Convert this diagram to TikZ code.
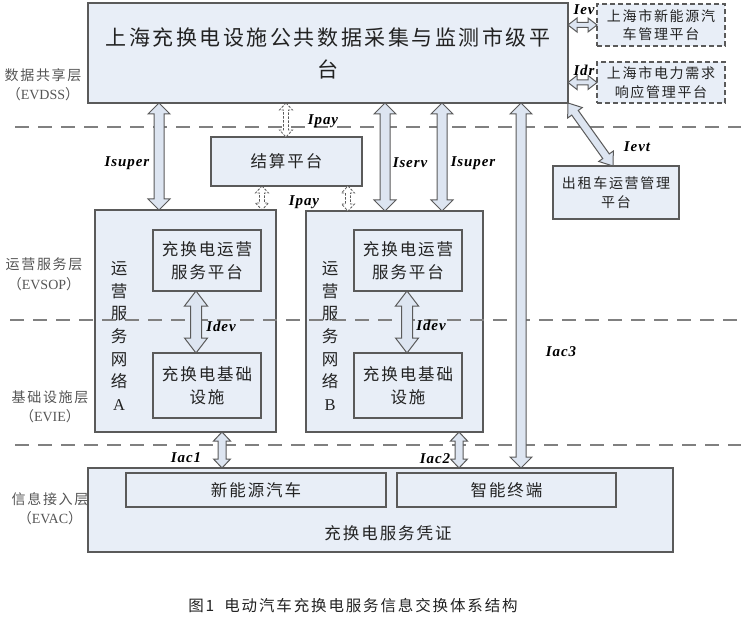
\documentclass[tikz,border=0pt]{standalone}
\usepackage{fontspec}
\setmainfont{Noto Sans CJK SC}
\newfontfamily\cjk[LetterSpace=12]{Noto Sans CJK SC}
\newfontfamily\lab[LetterSpace=6]{Liberation Serif}
\newfontfamily\ser{Liberation Serif}
\usetikzlibrary{calc}
\definecolor{boxfill}{HTML}{E8EEF7}
\definecolor{boxline}{HTML}{5A5A5A}
\definecolor{arrfill}{HTML}{DDE5F1}
\definecolor{layer}{HTML}{808080}
\definecolor{txt}{HTML}{222222}
\definecolor{lbl}{HTML}{555555}
% #2 start, #3 end, #4 shaft half width, #5 head half width, #6 head length
\newcommand\blockarrow[6][]{%
  \draw[barrowst,#1] let \p1=($(#3)-(#2)$), \n1={atan2(\y1,\x1)} in
    (#2) -- ($(#2)+(\n1:#6)+(\n1+90:#5)$) -- ($(#2)+(\n1:#6)+(\n1+90:#4)$)
    -- ($(#3)+(\n1+180:#6)+(\n1+90:#4)$) -- ($(#3)+(\n1+180:#6)+(\n1+90:#5)$)
    -- (#3) -- ($(#3)+(\n1+180:#6)+(\n1-90:#5)$) -- ($(#3)+(\n1+180:#6)+(\n1-90:#4)$)
    -- ($(#2)+(\n1:#6)+(\n1-90:#4)$) -- ($(#2)+(\n1:#6)+(\n1-90:#5)$) -- cycle;}
\begin{document}
\begin{tikzpicture}[x=1pt,y=-1pt,
  box/.style={draw=boxline, fill=boxfill, line width=1.1pt, inner sep=0pt, outer sep=0pt,
    anchor=north west, text=txt, align=center},
  dbox/.style={box, dash pattern=on 5pt off 3pt},
  layerline/.style={draw=layer, line width=1.5pt, dash pattern=on 14pt off 9pt},
  barrowst/.style={draw=boxline, fill=arrfill, line width=1pt, line join=miter},
  parrow/.style={fill=white, line width=0.8pt, dash pattern=on 2.5pt off 1.5pt},
  iflabel/.style={font=\lab\fontsize{15}{15}\selectfont\bfseries\itshape, text=black, inner sep=0pt},
  layerlabel/.style={font=\cjk\fontsize{14}{19.5}\selectfont, text=lbl, align=center, inner sep=0pt},
  f21/.style={font=\cjk\fontsize{21}{32}\selectfont},
  f16/.style={font=\cjk\fontsize{16.5}{23}\selectfont},
  f14/.style={font=\cjk\fontsize{14}{18.5}\selectfont},
]
\useasboundingbox (0,0) rectangle (741,620);

% ---------- boxes ----------
\node[box, f21, minimum width=480pt, minimum height=100pt] (main) at (88,3)
  {上海充换电设施公共数据采集与监测市级平\\台};
\node[dbox, f14, minimum width=128pt, minimum height=42pt] (iev) at (597,4)
  {上海市新能源汽\\车管理平台};
\node[dbox, f14, minimum width=128pt, minimum height=41pt] (idr) at (597,62)
  {上海市电力需求\\响应管理平台};
\node[box, f16, minimum width=151pt, minimum height=49pt] (settle) at (211,137) {结算平台};
\node[box, f14, minimum width=126pt, minimum height=53pt] (taxi) at (553,166)
  {出租车运营管理\\平台};

\node[box, minimum width=181pt, minimum height=222pt] (netA) at (95,210) {};
\node[box, f16, minimum width=108pt, minimum height=61pt] (opA) at (153,230) {充换电运营\\服务平台};
\node[box, f16, minimum width=108pt, minimum height=65pt] (infA) at (153,353) {充换电基础\\设施};
\node[font=\cjk\fontsize{16.5}{22.6}\selectfont, align=center, text=txt, inner sep=0pt] (vA) at (119,336)
  {运\\营\\服\\务\\网\\络\\{\ser A}};

\node[box, minimum width=177pt, minimum height=221pt] (netB) at (306,211) {};
\node[box, f16, minimum width=108pt, minimum height=61pt] (opB) at (354,230) {充换电运营\\服务平台};
\node[box, f16, minimum width=108pt, minimum height=65pt] (infB) at (354,353) {充换电基础\\设施};
\node[font=\cjk\fontsize{16.5}{22.6}\selectfont, align=center, text=txt, inner sep=0pt] (vB) at (330,336)
  {运\\营\\服\\务\\网\\络\\{\ser B}};

\node[box, minimum width=585pt, minimum height=84pt] (bottom) at (88,468) {};
\node[box, f16, minimum width=260pt, minimum height=34pt] (ev) at (126,473) {新能源汽车};
\node[box, f16, minimum width=219pt, minimum height=34pt] (term) at (397,473) {智能终端};
\node[f16, text=txt, inner sep=0pt] (cert) at (388,533) {充换电服务凭证};

% ---------- layer labels ----------
\node[layerlabel] (l1) at (43,84.5) {数据共享层\\（{\ser EVDSS}）};
\node[layerlabel] (l2) at (44,274.5) {运营服务层\\（{\ser EVSOP}）};
\node[layerlabel] (l3) at (50,407) {基础设施层\\（{\ser EVIE}）};
\node[layerlabel] (l4) at (50,508.5) {信息接入层\\（{\ser EVAC}）};

% ---------- layer separators ----------
\draw[layerline] (15,127) -- (741,127);
\draw[layerline] (10,320) -- (741,320);
\draw[layerline] (15,445) -- (741,445);

% ---------- arrow end points ----------
\coordinate (xIsA) at (159,0);
\coordinate (xPay) at (286,0);
\coordinate (xPayA) at (262,0);
\coordinate (xPayB) at (348,0);
\coordinate (xServ) at (385,0);
\coordinate (xIsB) at (442,0);
\coordinate (xAc3) at (521,0);
\coordinate (xDevA) at (196,0);
\coordinate (xDevB) at (407,0);
\coordinate (xAc1) at (222,0);
\coordinate (xAc2) at (459,0);

\coordinate (a1) at (main.south -| xIsA);  \coordinate (b1) at (netA.north -| xIsA);
\coordinate (a2) at (main.south -| xPay);  \coordinate (b2) at (settle.north -| xPay);
\coordinate (a3) at (settle.south -| xPayA); \coordinate (b3) at (netA.north -| xPayA);
\coordinate (a4) at (settle.south -| xPayB); \coordinate (b4) at (netB.north -| xPayB);
\coordinate (a5) at (main.south -| xServ); \coordinate (b5) at (netB.north -| xServ);
\coordinate (a6) at (main.south -| xIsB);  \coordinate (b6) at (netB.north -| xIsB);
\coordinate (a7) at (main.south -| xAc3);  \coordinate (b7) at (bottom.north -| xAc3);
\coordinate (a8) at (opA.south -| xDevA);  \coordinate (b8) at (infA.north -| xDevA);
\coordinate (a9) at (opB.south -| xDevB);  \coordinate (b9) at (infB.north -| xDevB);
\coordinate (a10) at (netA.south -| xAc1); \coordinate (b10) at (bottom.north -| xAc1);
\coordinate (a11) at (netB.south -| xAc2); \coordinate (b11) at (bottom.north -| xAc2);
\coordinate (a12) at (main.east |- iev.west); \coordinate (b12) at (iev.west);
\coordinate (a13) at (main.east |- idr.west); \coordinate (b13) at (idr.west);
\coordinate (a14) at (main.south east);    \coordinate (b14) at (taxi.north -| 613,0);

% ---------- arrows ----------
\blockarrow{a1}{b1}{5pt}{11pt}{11pt}
\blockarrow[parrow]{a2}{b2}{2.5pt}{6.5pt}{7pt}
\blockarrow[parrow]{a3}{b3}{2.5pt}{6.5pt}{7pt}
\blockarrow[parrow]{a4}{b4}{2.5pt}{6.5pt}{7pt}
\blockarrow{a5}{b5}{5pt}{11pt}{11pt}
\blockarrow{a6}{b6}{5pt}{11pt}{11pt}
\blockarrow{a7}{b7}{5pt}{11pt}{11pt}
\blockarrow{a8}{b8}{5.5pt}{11.5pt}{15pt}
\blockarrow{a9}{b9}{5.5pt}{11.5pt}{15pt}
\blockarrow{a10}{b10}{4pt}{8.5pt}{9pt}
\blockarrow{a11}{b11}{4pt}{8.5pt}{9pt}
\blockarrow{a12}{b12}{2.5pt}{7pt}{9pt}
\blockarrow{a13}{b13}{2.5pt}{7pt}{9pt}
\blockarrow{a14}{b14}{4pt}{9pt}{12pt}

% ---------- interface labels ----------
\node[iflabel] (LIsA) at (127,163) {Isuper};
\node[iflabel] (LServ) at (410,163) {Iserv};
\node[iflabel] (LIsB) at (473,163) {Isuper};
\node[iflabel] (LPay1) at (323,121) {Ipay};
\node[iflabel] (LPay2) at (304,202) {Ipay};
\node[iflabel] (LDevA) at (221,326) {Idev};
\node[iflabel] (LDevB) at (431,325) {Idev};
\node[iflabel] (LAc3) at (561,352) {Iac3};
\node[iflabel] (LAc1) at (186,458) {Iac1};
\node[iflabel] (LAc2) at (435,459) {Iac2};
\node[iflabel] (LIev) at (584,10) {Iev};
\node[iflabel] (LIdr) at (584,70) {Idr};
\node[iflabel] (LIevt) at (637,147) {Ievt};

% ---------- caption ----------
\node[font=\cjk\fontsize{15.5}{18}\selectfont, text=txt, inner sep=0pt] (cap) at (353,606)
  {图1\hspace{10pt}电动汽车充换电服务信息交换体系结构};
\end{tikzpicture}
\end{document}
